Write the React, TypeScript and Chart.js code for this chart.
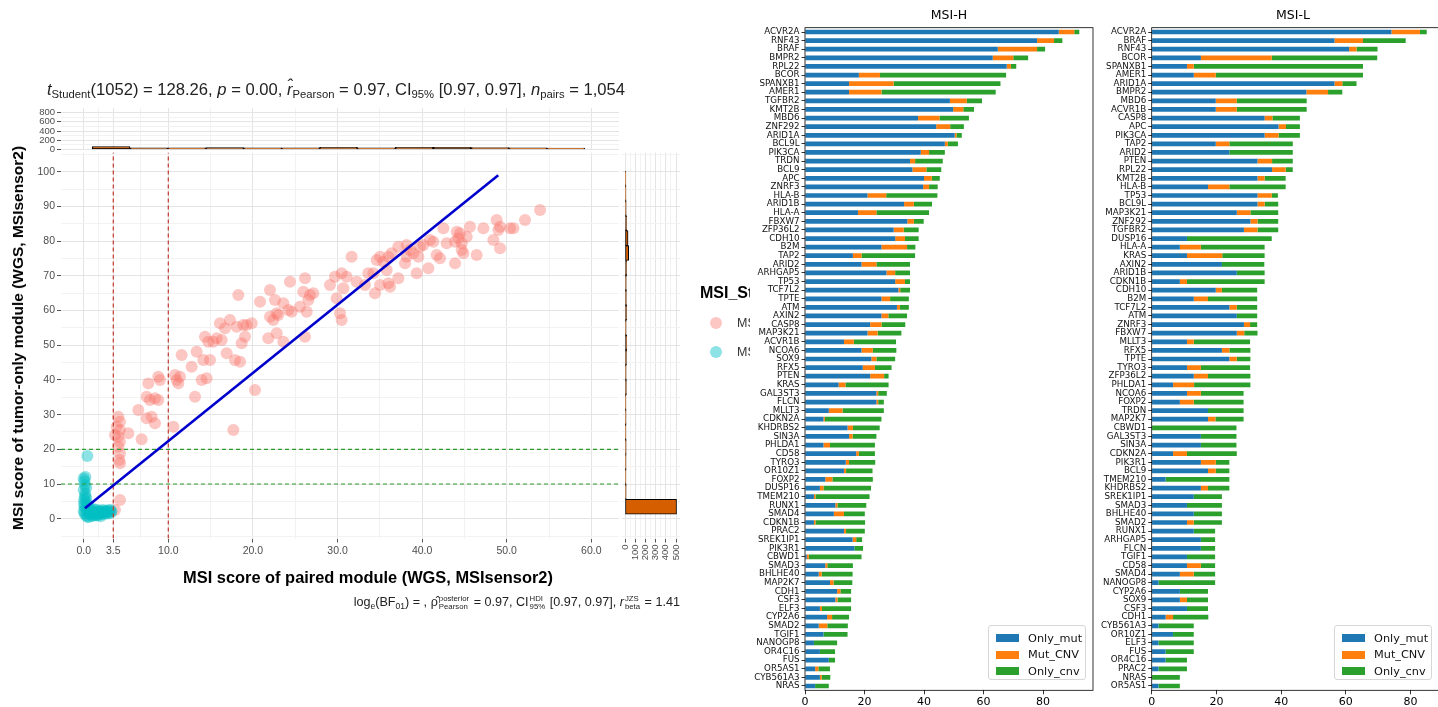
import React, { useEffect, useRef } from "react";
import { Chart, registerables } from "chart.js";
Chart.register(...registerables);

// ---------------- scatter data (left panel) ----------------
const msiHighPoints: [number, number][] = [
  [4.09, 29.4], [4.29, 27.96], [3.9, 26.52], [4.29, 25.56], [4.09, 23.64], [3.7, 24.12], [4.29, 22.2], [4.09, 20.76],
  [4.29, 18.84], [4.29, 15.96], [4.21, 16.92], [4.29, 5.39], [3.7, 2.51], [5.28, 24.6], [6.85, 22.87], [6.46, 31.32],
  [7.44, 28.92], [8.03, 29.4], [8.43, 27.48], [7.84, 34.2], [7.44, 35.16], [8.43, 34.68], [8.82, 34.2], [7.64, 39.0],
  [8.82, 40.93], [9.02, 39.97], [10.6, 26.52], [10.79, 41.41], [10.99, 39.97], [11.38, 40.93], [11.19, 39.0], [11.58, 47.17],
  [12.76, 43.81], [13.16, 35.16], [13.35, 48.14], [13.94, 39.97], [14.53, 40.45], [14.14, 45.73], [14.93, 45.73], [14.34, 52.46],
  [14.73, 51.02], [15.32, 51.02], [15.72, 51.98], [16.31, 51.5], [16.11, 56.3], [16.7, 54.86], [16.9, 47.66], [17.29, 57.26],
  [17.88, 45.73], [18.48, 45.25], [18.08, 55.34], [18.87, 55.82], [19.26, 55.82], [19.86, 56.3], [18.67, 50.54], [19.07, 52.46],
  [20.25, 37.08], [17.69, 25.56], [18.28, 64.46], [20.84, 62.54], [22.02, 65.9], [22.61, 63.02], [22.81, 59.18], [22.41, 57.26],
  [22.02, 58.22], [23.0, 58.7], [23.6, 62.06], [24.19, 60.14], [24.58, 59.66], [24.38, 68.31], [21.82, 51.98], [22.81, 53.42],
  [23.6, 51.02], [26.16, 69.27], [25.96, 65.42], [26.75, 64.46], [26.55, 63.02], [25.57, 61.1], [26.36, 59.66], [26.16, 52.46],
  [27.14, 64.94], [29.11, 67.35], [29.7, 69.75], [30.49, 70.71], [31.08, 69.75], [30.69, 66.38], [29.9, 63.5], [30.3, 59.18],
  [30.49, 57.26], [31.67, 75.51], [32.27, 68.31], [33.25, 67.35], [33.64, 70.71], [34.24, 70.71], [34.63, 74.55], [35.02, 75.51],
  [35.42, 74.07], [36.01, 75.51], [36.4, 76.47], [34.43, 64.94], [35.02, 67.35], [36.01, 67.83], [36.21, 66.87], [37.19, 69.27],
  [35.81, 71.67], [38.17, 78.87], [38.17, 75.51], [38.57, 77.43], [38.96, 76.47], [39.56, 75.51], [39.36, 70.71], [40.15, 78.87],
  [40.74, 72.15], [40.93, 80.31], [41.33, 79.83], [41.72, 75.99], [42.11, 75.03], [42.51, 83.68], [42.9, 79.35], [43.89, 79.83],
  [44.09, 82.72], [44.48, 82.24], [44.68, 77.43], [44.88, 76.47], [43.89, 73.59], [45.27, 81.28], [45.66, 84.16], [46.45, 75.99],
  [47.24, 83.68], [48.42, 80.31], [48.81, 86.08], [49.21, 84.16], [49.21, 77.91], [50.39, 83.68], [50.79, 83.68], [52.16, 86.08],
  [53.94, 88.96], [37.19, 78.39], [37.98, 73.59], [39.75, 78.39], [44.28, 80.8], [44.68, 79.35], [49.01, 83.2],
];
const msiLowPoints: [number, number][] = [
  [0.43, 18.1], [0.0, 11.6], [0.1, 10.8], [0.15, 9.7], [0.3, 9.0], [0.0, 8.3], [0.2, 7.2], [0.15, 6.4], [0.05, 5.5],
  [0.3, 4.8], [0.04, 4.4], [0.1, 3.6], [0.2, 2.9], [0.0, 2.2], [0.1, 1.5], [0.3, 1.0], [0.5, 2.5], [0.6, 1.8], [0.7, 3.1],
  [0.8, 1.2], [0.9, 2.2], [1.0, 1.6], [1.1, 2.8], [1.2, 1.0], [1.3, 2.0], [1.4, 1.4], [1.5, 2.6], [1.6, 1.8], [1.7, 1.1],
  [1.8, 2.3], [1.9, 1.6], [2.0, 2.0], [2.1, 1.3], [2.2, 2.5], [2.3, 1.7], [2.4, 2.1], [2.5, 1.4], [2.6, 2.4], [2.7, 1.8],
  [2.8, 2.2], [2.9, 1.5], [3.0, 2.0], [3.1, 2.6], [3.2, 1.7], [3.3, 2.2], [0.4, 0.6], [0.6, 0.5], [1.0, 0.8], [1.5, 0.9],
  [2.0, 0.7], [0.2, 12.0], [0.5, 3.8], [0.3, 6.0],
];
const fitLine: [number, number][] = [[0.15, 3.0], [49.0, 99.0]];
const xCutoffs = [3.5, 10];
const yCutoffs = [10, 20];

const xBreaks = [0, 3.5, 10, 20, 30, 40, 50, 60];
const xTickLabels = ["0.0", "3.5", "10.0", "20.0", "30.0", "40.0", "50.0", "60.0"];
const xMinorBreaks = [1.75, 6.75, 15, 25, 35, 45, 55];
const yBreaks = [0, 10, 20, 30, 40, 50, 60, 70, 80, 90, 100];
const yMinorBreaks = [-5, 5, 15, 25, 35, 45, 55, 65, 75, 85, 95, 105];

const topHistBinWidth = 4.48;
const topHistBins = [3.24, 7.72, 12.2, 16.68, 21.16, 25.64, 30.12, 34.6, 39.08, 43.56, 48.04, 52.52, 57.0];
const topHistCounts = [60, 34, 30, 36, 32, 30, 44, 32, 42, 46, 38, 30, 28];
const topHistBreaks = [0, 200, 400, 600, 800];
const topHistMinor = [100, 300, 500, 700];

const rightHistBinWidth = 4.3;
const rightHistBins = [3.45, 7.75, 12.05, 16.35, 20.65, 24.95, 29.25, 33.55, 37.85, 42.15, 46.45, 50.75, 55.05, 59.35,
  63.65, 67.95, 72.25, 76.55, 80.85, 85.15, 89.45, 93.75, 98.05];
const rightHistCounts = [505, 12, 10, 11, 12, 10, 11, 10, 14, 12, 15, 18, 12, 16, 14, 13, 16, 36, 30, 16, 12, 10, 9];
const rightHistBreaks = [0, 100, 200, 300, 400, 500];
const rightHistMinor = [50, 150, 250, 350, 450];

// ---------------- bar data (MSI-H) ----------------
const hGenes = ["ACVR2A", "RNF43", "BRAF", "BMPR2", "RPL22", "BCOR", "SPANXB1", "AMER1", "TGFBR2", "KMT2B", "MBD6", "ZNF292",
  "ARID1A", "BCL9L", "PIK3CA", "TRDN", "BCL9", "APC", "ZNRF3", "HLA-B", "ARID1B", "HLA-A", "FBXW7", "ZFP36L2", "CDH10", "B2M",
  "TAP2", "ARID2", "ARHGAP5", "TP53", "TCF7L2", "TPTE", "ATM", "AXIN2", "CASP8", "MAP3K21", "ACVR1B", "NCOA6", "SOX9", "RFX5",
  "PTEN", "KRAS", "GAL3ST3", "FLCN", "MLLT3", "CDKN2A", "KHDRBS2", "SIN3A", "PHLDA1", "CD58", "TYRO3", "OR10Z1", "FOXP2",
  "DUSP16", "TMEM210", "RUNX1", "SMAD4", "CDKN1B", "PRAC2", "SREK1IP1", "PIK3R1", "CBWD1", "SMAD3", "BHLHE40", "MAP2K7",
  "CDH1", "CSF3", "ELF3", "CYP2A6", "SMAD2", "TGIF1", "NANOGP8", "OR4C16", "FUS", "OR5AS1", "CYB561A3", "NRAS"];
const hOnlyMut = [85.3, 78.0, 64.8, 63.1, 67.8, 18.1, 14.8, 14.8, 48.7, 49.8,
  38.0, 44.1, 50.3, 47.0, 38.9, 35.3, 36.1, 40.0, 39.7, 21.0,
  33.3, 17.8, 34.4, 29.8, 30.3, 25.7, 16.1, 19.0, 27.4, 30.3,
  31.4, 25.7, 30.9, 25.7, 21.9, 21.0, 13.1, 19.0, 22.3, 19.4,
  21.9, 11.3, 24.0, 24.0, 8.0, 6.2, 14.3, 14.8, 6.2, 17.2,
  13.7, 13.1, 6.8, 5.0, 3.0, 10.2, 9.7, 3.0, 13.1, 16.0,
  16.6, 0.6, 6.8, 4.6, 8.4, 10.8, 10.2, 5.0, 7.4, 4.6,
  6.2, 3.0, 5.0, 8.0, 3.4, 5.0, 3.4];
const hMutCnv = [5.2, 5.7, 13.2, 6.9, 1.4, 7.1, 15.0, 10.9, 5.7, 3.4,
  7.2, 4.7, 0.6, 1.0, 2.8, 1.7, 4.7, 2.6, 2.0, 6.3,
  3.3, 6.2, 2.2, 3.4, 3.3, 8.6, 2.9, 5.0, 2.9, 3.3,
  0.6, 2.9, 1.0, 2.3, 3.8, 3.4, 3.3, 3.8, 1.7, 4.1,
  4.7, 2.3, 0.6, 0.6, 4.6, 0.5, 1.8, 1.2, 2.2, 0.9,
  1.1, 0.7, 2.4, 1.2, 0.5, 0.7, 3.4, 0.5, 0.7, 1.2,
  0, 0.7, 0.7, 1.0, 1.2, 1.1, 0.7, 0.7, 1.7, 2.9,
  0, 0, 0, 0, 1.1, 0.6, 0];
const hOnlyCnv = [1.7, 2.8, 2.7, 5.0, 1.8, 42.4, 35.9, 38.4, 5.1, 3.6,
  9.9, 4.6, 1.8, 3.4, 5.3, 9.3, 5.0, 2.7, 2.9, 17.2,
  6.1, 17.7, 3.3, 5.0, 4.6, 2.8, 18.0, 11.3, 5.0, 1.7,
  3.3, 6.3, 3.0, 6.3, 8.0, 8.0, 14.2, 7.9, 6.3, 5.6,
  1.5, 14.5, 2.9, 1.9, 13.9, 19.0, 9.0, 8.0, 15.1, 5.4,
  8.8, 8.9, 13.6, 16.0, 18.2, 9.7, 7.0, 16.7, 6.3, 2.0,
  2.9, 17.7, 8.6, 10.4, 6.3, 3.6, 4.6, 9.8, 5.7, 6.9,
  8.1, 7.8, 5.1, 2.1, 3.9, 2.9, 4.6];

// ---------------- bar data (MSI-L) ----------------
const lGenes = ["ACVR2A", "BRAF", "RNF43", "BCOR", "SPANXB1", "AMER1", "ARID1A", "BMPR2", "MBD6", "ACVR1B", "CASP8", "APC",
  "PIK3CA", "TAP2", "ARID2", "PTEN", "RPL22", "KMT2B", "HLA-B", "TP53", "BCL9L", "MAP3K21", "ZNF292", "TGFBR2", "DUSP16",
  "HLA-A", "KRAS", "AXIN2", "ARID1B", "CDKN1B", "CDH10", "B2M", "TCF7L2", "ATM", "ZNRF3", "FBXW7", "MLLT3", "RFX5", "TPTE",
  "TYRO3", "ZFP36L2", "PHLDA1", "NCOA6", "FOXP2", "TRDN", "MAP2K7", "CBWD1", "GAL3ST3", "SIN3A", "CDKN2A", "PIK3R1", "BCL9",
  "TMEM210", "KHDRBS2", "SREK1IP1", "SMAD3", "BHLHE40", "SMAD2", "RUNX1", "ARHGAP5", "FLCN", "TGIF1", "CD58", "SMAD4",
  "NANOGP8", "CYP2A6", "SOX9", "CSF3", "CDH1", "CYB561A3", "OR10Z1", "ELF3", "FUS", "OR4C16", "PRAC2", "NRAS", "OR5AS1"];
const lOnlyMut = [74.1, 56.5, 61.0, 15.2, 10.9, 13.0, 56.5, 47.8, 19.8, 19.8,
  34.9, 39.2, 34.9, 19.8, 24.0, 32.7, 37.2, 32.7, 17.4, 32.7,
  32.7, 26.3, 30.5, 28.5, 10.9, 8.7, 10.9, 21.7, 26.3, 8.7,
  19.8, 13.0, 24.0, 26.3, 28.5, 26.3, 10.9, 21.7, 24.0, 10.9,
  13.0, 6.6, 10.9, 8.7, 17.4, 17.4, 0, 15.2, 15.2, 6.6,
  15.2, 17.4, 4.3, 15.2, 13.0, 10.9, 13.0, 10.9, 13.0, 15.2,
  15.2, 10.9, 10.9, 8.7, 2.1, 8.7, 8.7, 10.9, 4.3, 2.1,
  6.6, 2.1, 4.3, 4.3, 2.1, 0, 2.1];
const lMutCnv = [8.8, 8.8, 2.3, 21.9, 2.1, 6.8, 2.4, 6.7, 6.5, 6.5,
  2.4, 2.3, 4.3, 4.2, 0, 4.5, 4.2, 2.2, 6.6, 4.4,
  2.2, 4.2, 2.2, 4.2, 0, 6.5, 10.9, 0, 0, 2.2,
  1.9, 4.4, 2.3, 0, 1.9, 2.3, 2.1, 2.3, 2.3, 4.3,
  4.4, 6.5, 4.3, 4.3, 0, 2.3, 0, 0, 0, 4.3,
  4.6, 2.4, 0, 2.2, 0, 0, 0, 2.1, 0, 0,
  0, 0, 4.3, 4.3, 0, 0, 2.2, 0, 2.3, 0,
  0, 0, 0, 0, 0, 0, 0];
const lOnlyCnv = [2.1, 13.2, 6.5, 32.6, 52.3, 45.5, 4.4, 4.4, 21.6, 21.6,
  8.5, 4.3, 6.6, 19.6, 19.6, 6.4, 2.2, 6.5, 17.4, 1.9,
  4.2, 8.6, 6.4, 6.4, 26.2, 19.7, 13.1, 13.1, 8.6, 24.0,
  10.9, 15.2, 6.3, 6.3, 2.2, 4.1, 17.4, 6.5, 4.2, 15.2,
  13.1, 17.4, 13.2, 15.4, 11.0, 8.7, 26.2, 11.0, 11.0, 15.4,
  4.2, 4.2, 19.7, 6.6, 8.7, 10.8, 8.7, 8.7, 6.6, 4.4,
  4.4, 8.7, 4.4, 6.6, 17.5, 8.7, 6.5, 6.5, 10.9, 10.9,
  6.4, 10.9, 8.7, 6.6, 8.8, 8.7, 6.6];
const barTicks = [0, 20, 40, 60, 80];

// ---------------- style constants ----------------
const GG = "'Liberation Sans', Arial, sans-serif";
const MPL = "'DejaVu Sans', sans-serif";
const X_MIN = -2.68, X_MAX = 63.27, Y_MIN = -5.7, Y_MAX = 105.5;
const MAIN_LEFT = 61, MAIN_RIGHT = 619, MAIN_TOP = 152.6, MAIN_BOTTOM = 538.5;
const GRID_MAJOR = "#E4E4E4";
const GRID_MINOR = "#F2F2F2";
const TICK_GRAY = "#4D4D4D";
const RED_PT = "rgba(248,118,109,0.42)";
const CYAN_PT = "rgba(0,191,196,0.45)";
const HIST_FILL = "#D55E00";
const C_MUT = "#1f77b4", C_MC = "#ff7f0e", C_CNV = "#2ca02c";

const setTicks = (vals: number[]) => (axis: any) => {
  axis.ticks = vals.map((v) => ({ value: v }));
};
const isIn = (arr: number[]) => (ctx: any) => arr.includes(ctx.tick?.value);

const framePlugin = {
  id: "frame",
  afterDraw(chart: any) {
    const { ctx, chartArea } = chart;
    ctx.save();
    ctx.strokeStyle = "#000";
    ctx.lineWidth = 0.8;
    ctx.strokeRect(chartArea.left, chartArea.top, chartArea.right - chartArea.left, chartArea.bottom - chartArea.top);
    ctx.restore();
  },
};

function ggAxis(opts: {
  min: number; max: number; grid: number[]; majors: number[]; labels?: (v: number) => string;
  fit: (s: any) => void; showLabels: boolean; fontSize?: number; rotate?: boolean; drawTicks?: boolean;
}) {
  const major = isIn(opts.majors);
  return {
    type: "linear" as const,
    min: opts.min,
    max: opts.max,
    offset: false,
    afterBuildTicks: setTicks(opts.grid),
    afterFit: opts.fit,
    border: { display: false },
    grid: {
      offset: false,
      color: (ctx: any) => (major(ctx) ? GRID_MAJOR : GRID_MINOR),
      lineWidth: 1,
      drawTicks: opts.drawTicks !== false,
      tickLength: 4,
      tickColor: (ctx: any) => (major(ctx) ? "#555" : "rgba(0,0,0,0)"),
    },
    ticks: {
      display: opts.showLabels,
      autoSkip: false,
      padding: 2,
      color: TICK_GRAY,
      font: { family: GG, size: opts.fontSize ?? 10.5 },
      maxRotation: opts.rotate ? 90 : 0,
      minRotation: opts.rotate ? 90 : 0,
      callback: (v: any) => (opts.labels ? opts.labels(Number(v)) : String(v)),
    },
  };
}

const toXY = (pts: [number, number][]) => pts.map(([x, y]) => ({ x, y }));

function buildMain(canvas: HTMLCanvasElement) {
  const xLab = (v: number) => {
    const i = xBreaks.indexOf(v);
    return i >= 0 ? xTickLabels[i] : "";
  };
  const yLab = (v: number) => (yBreaks.includes(v) ? String(v) : "");
  const refLine = (pts: [number, number][], color: string) => ({
    data: toXY(pts), showLine: true, pointRadius: 0, borderColor: color, borderWidth: 1.2, borderDash: [4, 3],
  });
  return new Chart(canvas, {
    type: "scatter",
    data: {
      datasets: [
        { data: toXY(fitLine), showLine: true, pointRadius: 0, borderColor: "#0000CD", borderWidth: 2.6 } as any,
        ...xCutoffs.map((c) => refLine([[c, Y_MIN], [c, Y_MAX]], "#C0392B")),
        ...yCutoffs.map((c) => refLine([[X_MIN, c], [X_MAX, c]], "#2E9B2E")),
        { data: toXY(msiLowPoints), pointRadius: 6, backgroundColor: CYAN_PT, borderWidth: 0 },
        { data: toXY(msiHighPoints), pointRadius: 6, backgroundColor: RED_PT, borderWidth: 0 },
      ],
    },
    options: {
      animation: false,
      responsive: false,
      events: [],
      layout: { padding: { left: 0, right: 752 - MAIN_RIGHT, top: MAIN_TOP, bottom: 707 - MAIN_BOTTOM - 30 } },
      plugins: { legend: { display: false }, tooltip: { enabled: false } },
      scales: {
        x: ggAxis({ min: X_MIN, max: X_MAX, grid: [...xBreaks, ...xMinorBreaks].sort((a, b) => a - b), majors: xBreaks,
          labels: xLab, fit: (s) => { s.height = 30; }, showLabels: true }),
        y: ggAxis({ min: Y_MIN, max: Y_MAX, grid: [...yBreaks, ...yMinorBreaks].sort((a, b) => a - b), majors: yBreaks,
          labels: yLab, fit: (s) => { s.width = MAIN_LEFT; }, showLabels: true }),
      },
    } as any,
  });
}

function buildTop(canvas: HTMLCanvasElement) {
  const pxPerUnit = (MAIN_RIGHT - MAIN_LEFT) / (X_MAX - X_MIN);
  return new Chart(canvas, {
    type: "bar",
    data: {
      datasets: [{
        data: topHistBins.map((b, i) => ({ x: b, y: topHistCounts[i] })),
        backgroundColor: HIST_FILL, borderColor: "#000", borderWidth: 1, borderSkipped: false,
        barThickness: topHistBinWidth * pxPerUnit,
      } as any],
    },
    options: {
      animation: false,
      responsive: false,
      events: [],
      layout: { padding: { left: 0, right: 752 - MAIN_RIGHT, top: 8, bottom: 10 } },
      plugins: { legend: { display: false }, tooltip: { enabled: false } },
      scales: {
        x: ggAxis({ min: X_MIN, max: X_MAX, grid: [...xBreaks, ...xMinorBreaks].sort((a, b) => a - b), majors: xBreaks,
          fit: (s) => { s.height = 0; }, showLabels: false, drawTicks: false }),
        y: ggAxis({ min: -15, max: 903, grid: [...topHistBreaks, ...topHistMinor].sort((a, b) => a - b),
          majors: topHistBreaks, labels: (v) => (topHistBreaks.includes(v) ? String(v) : ""),
          fit: (s) => { s.width = MAIN_LEFT; }, showLabels: true, fontSize: 9.5 }),
      },
    } as any,
  });
}

function buildRight(canvas: HTMLCanvasElement) {
  const pxPerUnit = (MAIN_BOTTOM - MAIN_TOP) / (Y_MAX - Y_MIN);
  return new Chart(canvas, {
    type: "bar",
    data: {
      datasets: [{
        data: rightHistBins.map((b, i) => ({ y: b, x: rightHistCounts[i] })),
        backgroundColor: HIST_FILL, borderColor: "#000", borderWidth: 1, borderSkipped: false,
        barThickness: rightHistBinWidth * pxPerUnit,
      } as any],
    },
    options: {
      indexAxis: "y",
      animation: false,
      responsive: false,
      events: [],
      layout: { padding: { left: 22, right: 20, top: MAIN_TOP, bottom: 707 - MAIN_BOTTOM - 30 } },
      plugins: { legend: { display: false }, tooltip: { enabled: false } },
      scales: {
        x: ggAxis({ min: -29.4, max: 539, grid: [...rightHistBreaks, ...rightHistMinor].sort((a, b) => a - b),
          majors: rightHistBreaks, labels: (v) => (rightHistBreaks.includes(v) ? String(v) : ""),
          fit: (s) => { s.height = 30; }, showLabels: true, fontSize: 9.5, rotate: true }),
        y: ggAxis({ min: Y_MIN, max: Y_MAX, grid: [...yBreaks, ...yMinorBreaks].sort((a, b) => a - b), majors: yBreaks,
          fit: (s) => { s.width = 0; }, showLabels: false, drawTicks: false }),
      },
    } as any,
  });
}

function buildBars(genes: string[], mut: number[], mc: number[], cnv: number[], xMax: number, yWidth: number, padRight: number) {
  return (canvas: HTMLCanvasElement) =>
    new Chart(canvas, {
      type: "bar",
      data: {
        labels: genes,
        datasets: [
          { label: "Only_mut", data: mut, backgroundColor: C_MUT, borderWidth: 0 },
          { label: "Mut_CNV", data: mc, backgroundColor: C_MC, borderWidth: 0 },
          { label: "Only_cnv", data: cnv, backgroundColor: C_CNV, borderWidth: 0 },
        ],
      },
      options: {
        indexAxis: "y",
        animation: false,
        responsive: false,
        events: [],
        datasets: { bar: { barPercentage: 0.55, categoryPercentage: 1 } },
        layout: { padding: { left: 0, right: padRight, top: 27.7, bottom: 0 } },
        plugins: { legend: { display: false }, tooltip: { enabled: false } },
        scales: {
          x: {
            type: "linear", stacked: true, min: 0, max: xMax,
            afterBuildTicks: setTicks(barTicks),
            afterFit: (s: any) => { s.height = 16.7; },
            border: { display: false },
            grid: { drawOnChartArea: false, tickLength: 4, tickColor: "#000", lineWidth: 0.8 },
            ticks: { color: "#000", padding: 1, font: { family: MPL, size: 11 }, maxRotation: 0, autoSkip: false },
          },
          y: {
            stacked: true,
            afterFit: (s: any) => { s.width = yWidth; },
            border: { display: false },
            grid: { drawOnChartArea: false, offset: false, tickLength: 3.5, tickColor: "#000", lineWidth: 0.8 },
            ticks: { color: "#111", padding: 2, autoSkip: false, font: { family: MPL, size: 8.7 } },
          },
        },
      } as any,
      plugins: [framePlugin],
    });
}

function ChartCanvas({ left, top, width, height, build }: {
  left: number; top: number; width: number; height: number; build: (c: HTMLCanvasElement) => Chart;
}) {
  const ref = useRef<HTMLCanvasElement>(null);
  useEffect(() => {
    const chart = build(ref.current!);
    return () => chart.destroy();
  }, []);
  return <canvas ref={ref} width={width} height={height} style={{ position: "absolute", left, top, width, height }} />;
}

const SS = ({ sup, sub }: { sup: string; sub: string }) => (
  <span style={{ display: "inline-flex", flexDirection: "column", verticalAlign: "middle", fontSize: "0.62em",
    lineHeight: 1, margin: "0 1px" }}>
    <span>{sup}</span>
    <span>{sub}</span>
  </span>
);

const Sub = ({ children }: { children: React.ReactNode }) => (
  <sub style={{ fontSize: "0.68em", verticalAlign: "-0.35em" }}>{children}</sub>
);

function MplLegend({ left, top }: { left: number; top: number }) {
  const items: [string, string][] = [["Only_mut", C_MUT], ["Mut_CNV", C_MC], ["Only_cnv", C_CNV]];
  return (
    <div style={{ position: "absolute", left, top, width: 98, height: 55, border: "1px solid #d6d6d6",
      borderRadius: 3, background: "rgba(255,255,255,0.85)", boxSizing: "border-box", padding: "4px 0 0 7px",
      fontFamily: MPL, fontSize: 11.3, color: "#111" }}>
      {items.map(([t, c]) => (
        <div key={t} style={{ display: "flex", alignItems: "center", height: 16.5 }}>
          <span style={{ display: "inline-block", width: 23, height: 8, background: c, marginRight: 9 }} />
          <span>{t}</span>
        </div>
      ))}
    </div>
  );
}

export default function App() {
  const abs = (s: React.CSSProperties): React.CSSProperties => ({ position: "absolute", whiteSpace: "nowrap", ...s });
  return (
    <div style={{ position: "fixed", left: 0, top: 0, width: 1438, height: 707, overflow: "hidden",
      background: "#fff", fontFamily: GG, color: "#000" }}>
      <ChartCanvas left={0} top={0} width={752} height={707} build={buildMain} />
      <ChartCanvas left={0} top={100} width={752} height={60} build={buildTop} />
      <ChartCanvas left={600} top={0} width={100} height={707} build={buildRight} />

      {/* title */}
      <div style={abs({ left: 336, top: 90, transform: "translate(-50%,-50%)", fontSize: 16.6, color: "#222" })}>
        <i>t</i><Sub>Student</Sub>(1052) = 128.26, <i>p</i> = 0.00, <i>r&#770;</i><Sub>Pearson</Sub> = 0.97,
        CI<Sub>95%</Sub> [0.97, 0.97], <i>n</i><Sub>pairs</Sub> = 1,054
      </div>
      {/* x title */}
      <div style={abs({ left: 368, top: 577, transform: "translate(-50%,-50%)", fontSize: 16.4, fontWeight: "bold" })}>
        MSI score of paired module (WGS, MSIsensor2)
      </div>
      {/* y title */}
      <div style={abs({ left: 18, top: 338, transform: "translate(-50%,-50%) rotate(-90deg)", fontSize: 15.5,
        fontWeight: "bold" })}>
        MSI score of tumor-only module (WGS, MSIsensor2)
      </div>
      {/* caption */}
      <div style={abs({ right: 1438 - 680, top: 603, transform: "translateY(-50%)", fontSize: 12.6, color: "#222" })}>
        log<Sub>e</Sub>(BF<Sub>01</Sub>) = , <span>&rho;&#770;</span><SS sup="posterior" sub="Pearson" /> = 0.97,
        CI<SS sup="HDI" sub="95%" /> [0.97, 0.97], <i>r</i><SS sup="JZS" sub="beta" /> = 1.41
      </div>
      {/* scatter legend (partly hidden) */}
      <div style={abs({ left: 700, top: 293, transform: "translateY(-50%)", fontSize: 16, fontWeight: "bold" })}>MSI_Status</div>
      <div style={abs({ left: 710, top: 317, width: 12, height: 12, borderRadius: 6, background: RED_PT })} />
      <div style={abs({ left: 710, top: 346, width: 12, height: 12, borderRadius: 6, background: CYAN_PT })} />
      <div style={abs({ left: 737, top: 323, transform: "translateY(-50%)", fontSize: 12.5, color: "#333" })}>MSI-H</div>
      <div style={abs({ left: 737, top: 352, transform: "translateY(-50%)", fontSize: 12.5, color: "#333" })}>MSI-L</div>

      {/* right panel */}
      <div style={abs({ left: 750, top: 0, width: 688, height: 707, background: "#fff" })} />
      <ChartCanvas left={752} top={0} width={345} height={707}
        build={buildBars(hGenes, hOnlyMut, hMutCnv, hOnlyCnv, 96.8, 53, 4)} />
      <ChartCanvas left={1097} top={0} width={343} height={707}
        build={buildBars(lGenes, lOnlyMut, lMutCnv, lOnlyCnv, 89.1, 54.7, 0)} />
      <div style={abs({ left: 949, top: 14, transform: "translate(-50%,-50%)", fontFamily: MPL, fontSize: 12.5 })}>MSI-H</div>
      <div style={abs({ left: 1293, top: 14, transform: "translate(-50%,-50%)", fontFamily: MPL, fontSize: 12.5 })}>MSI-L</div>
      <MplLegend left={988} top={625} />
      <MplLegend left={1334} top={625} />
    </div>
  );
}
